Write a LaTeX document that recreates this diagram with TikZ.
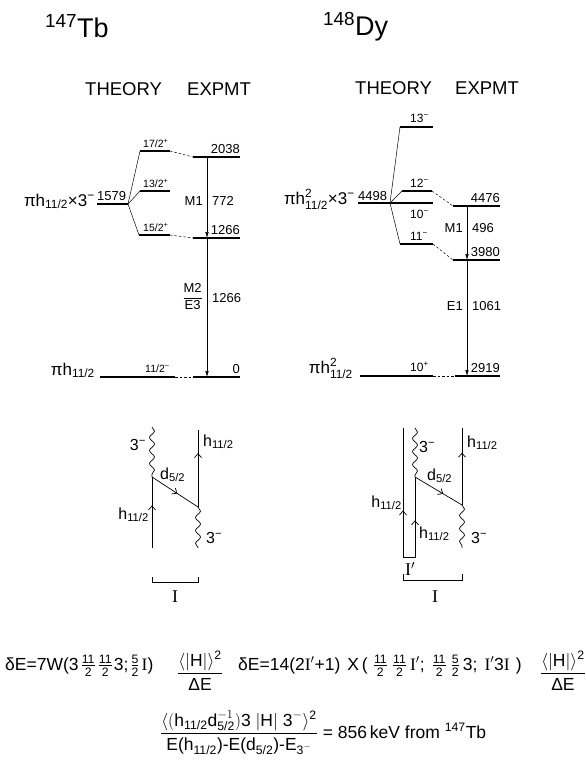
\documentclass[tikz,border=0pt]{standalone}
\usepackage{fix-cm}
\usepackage{amsmath}
\usepackage{fontspec}
\setmainfont{Liberation Sans}
\newfontfamily\romfont{Liberation Serif}
\usepackage{tikz}
\usetikzlibrary{arrows.meta, decorations.pathmorphing, decorations.markings}
\newcommand{\Ir}{{\romfont I}}
\newcommand{\fr}[2]{$\frac{\text{#1}}{\text{#2}}$}
\newcommand{\hel}{h\textsubscript{11/2}}
\tikzset{
	lvl/.style ={line width=1.8pt},
	tie/.style ={line width=0.5pt},
	dtie/.style={line width=0.5pt, dash pattern=on 2.5pt off 2pt},
	gam/.style ={line width=0.5pt, -{Latex[length=6pt,width=3.5pt]}},
	prop/.style={line width=0.7pt, postaction={decorate}, decoration={markings, mark=at position #1 with {\arrow{Straight Barb[length=4pt,width=7pt]}}}},
	prop/.default=0.5,
	wig/.style ={line width=0.7pt, decorate, decoration={snake, amplitude=2.5pt, segment length=13pt}},
	brk/.style ={line width=0.6pt},
}

\begin{document}
\begin{tikzpicture}[x=1pt, y=-1pt, every node/.style={inner sep=0pt},
					nuc/.style ={font=\fontsize{27}{27}\selectfont},
					hdr/.style ={font=\fontsize{18.5}{18.5}\selectfont},
					cfg/.style ={font=\fontsize{17}{17}\selectfont},
					en/.style  ={font=\fontsize{13}{13}\selectfont},
					spin/.style={font=\fontsize{10.5}{10.5}\selectfont},
					jm/.style  ={font=\fontsize{12}{12}\selectfont},
					lbl/.style ={font=\fontsize{16}{16}\selectfont},
					roml/.style={font=\fontsize{18}{18}\selectfont\romfont},
					eqn/.style ={font=\fontsize{17.5}{17.5}\selectfont}]
	\useasboundingbox (0,0) rectangle (586,761);
	% headings
	\node[nuc, anchor=base west] (tb) at (45,37) {\textsuperscript{147}Tb};
	\node[nuc, anchor=base west] (dy) at (323,35) {\textsuperscript{148}Dy};
	\node[hdr, anchor=base west] (thL) at (85,95) {THEORY};
	\node[hdr, anchor=base west] (exL) at (187,95) {EXPMT};
	\node[hdr, anchor=base west] (thR) at (355,94) {THEORY};
	\node[hdr, anchor=base west] (exR) at (455,94) {EXPMT};

	% 147Tb
	\coordinate (r0) at (97,204); \coordinate (b1) at (128,204);
	\coordinate (s17a) at (140,151); \coordinate (s17b) at (170,151);
	\coordinate (s13a) at (140,191); \coordinate (s13b) at (170,191);
	\coordinate (s15a) at (139,235); \coordinate (s15b) at (170,235);
	\coordinate (x2038a) at (193,157); \coordinate (x2038b) at (240,157);
	\coordinate (x1266a) at (193,238); \coordinate (x1266b) at (240,238);
	\coordinate (g0a) at (100,377); \coordinate (g0b) at (175,377);
	\coordinate (x0a) at (193,377); \coordinate (x0b) at (240,377);
	\draw[lvl] (r0) -- (b1); \draw[lvl] (s17a) -- (s17b); \draw[lvl] (s13a) -- (s13b); \draw[lvl] (s15a) -- (s15b);
	\draw[lvl] (x2038a) -- (x2038b); \draw[lvl] (x1266a) -- (x1266b);
	\draw[lvl] (g0a) -- (g0b); \draw[lvl] (x0a) -- (x0b);
	\draw[tie] (b1) -- (s17a); \draw[tie] (b1) -- (s13a); \draw[tie] (b1) -- (s15a);
	\draw[dtie] (s17b) -- (x2038a); \draw[dtie] (s15b) -- (x1266a); \draw[dtie] (g0b) -- (x0a);
	\node[cfg, anchor=base east] (cfgL) at (95,206) {πh\textsubscript{11/2}×3\textsuperscript{−}};
	\node[cfg, anchor=base east] (gsL) at (95,375) {πh\textsubscript{11/2}};
	\node[en, anchor=base west] (e1579) at (97,200) {1579};
	\node[spin, anchor=base west] (j17) at (143,147) {17/2\textsuperscript{+}};
	\node[spin, anchor=base west] (j13) at (143,187) {13/2\textsuperscript{+}};
	\node[spin, anchor=base west] (j15) at (143,231) {15/2\textsuperscript{+}};
	\node[spin, anchor=base west] (j11) at (145,372) {11/2\textsuperscript{−}};
	\node[en, anchor=base east] (e2038) at (240,153) {2038};
	\node[en, anchor=base east] (e1266) at (240,234) {1266};
	\node[en, anchor=base east] (e0) at (240,373) {0};
	\coordinate (gT1) at (207,157); \coordinate (gT2) at (207,238); \coordinate (gT3) at (207,377);
	\draw[gam] (gT1) -- (gT2); \draw[gam] (gT2) -- (gT3);
	\node[en, anchor=base east] (m1L) at (203,205) {M1};
	\node[en, anchor=base west] (k772) at (212,205) {772};
	\node[en, anchor=base east] (m2L) at (203,301) {$\dfrac{\text{M2}}{\text{E3}}$};
	\node[en, anchor=base west] (k1266) at (212,302) {1266};

	% 148Dy
	\coordinate (r1) at (358,203); \coordinate (b2) at (390,203); \coordinate (r2) at (433,203);
	\coordinate (s13m) at (400,127); \coordinate (s13n) at (433,127);
	\coordinate (s12a) at (402,191); \coordinate (s12b) at (432,191);
	\coordinate (s11a) at (400,244); \coordinate (s11b) at (433,244);
	\coordinate (x4476a) at (453,206); \coordinate (x4476b) at (500,206);
	\coordinate (x3980a) at (453,260); \coordinate (x3980b) at (500,260);
	\coordinate (g1a) at (360,376); \coordinate (g1b) at (433,376);
	\coordinate (x2919a) at (455,376); \coordinate (x2919b) at (500,376);
	\draw[lvl] (r1) -- (r2); \draw[lvl] (s13m) -- (s13n); \draw[lvl] (s12a) -- (s12b); \draw[lvl] (s11a) -- (s11b);
	\draw[lvl] (x4476a) -- (x4476b); \draw[lvl] (x3980a) -- (x3980b);
	\draw[lvl] (g1a) -- (g1b); \draw[lvl] (x2919a) -- (x2919b);
	\draw[tie] (b2) -- (s13m); \draw[tie] (b2) -- (s12a); \draw[tie] (b2) -- (s11a);
	\draw[dtie] (s12b) -- (x4476a); \draw[dtie] (s11b) -- (x3980a); \draw[dtie] (g1b) -- (x2919a);
	\node[cfg, anchor=base east] (cfgR) at (355,204) {πh$^{\text{2}}_{\text{11/2}}$×3\textsuperscript{−}};
	\node[cfg, anchor=base east] (gsR) at (353,373) {πh$^{\text{2}}_{\text{11/2}}$};
	\node[en, anchor=base west] (e4498) at (358,200) {4498};
	\node[jm, anchor=base west] (j13m) at (410,122) {13\textsuperscript{−}};
	\node[jm, anchor=base west] (j12m) at (410,187) {12\textsuperscript{−}};
	\node[jm, anchor=base west] (j10m) at (410,218) {10\textsuperscript{−}};
	\node[jm, anchor=base west] (j11m) at (410,240) {11\textsuperscript{−}};
	\node[jm, anchor=base west] (j10p) at (410,371) {10\textsuperscript{+}};
	\node[en, anchor=base east] (e4476) at (500,202) {4476};
	\node[en, anchor=base east] (e3980) at (500,256) {3980};
	\node[en, anchor=base east] (e2919) at (500,372) {2919};
	\coordinate (gD1) at (467,206); \coordinate (gD2) at (467,260); \coordinate (gD3) at (467,376);
	\draw[gam] (gD1) -- (gD2); \draw[gam] (gD2) -- (gD3);
	\node[en, anchor=base east] (m1R) at (463,232) {M1};
	\node[en, anchor=base west] (k496) at (472,232) {496};
	\node[en, anchor=base east] (e1R) at (463,310) {E1};
	\node[en, anchor=base west] (k1061) at (472,310) {1061};

	% graph, 147Tb
	\coordinate (la0) at (152,427); \coordinate (la1) at (152,477); \coordinate (la2) at (152,548);
	\coordinate (lb0) at (198,430); \coordinate (lb1) at (198,507); \coordinate (lb2) at (198,548);
	\draw[wig] (la0) -- (la1); \draw[prop=0.6] (la2) -- (la1);
	\draw[prop=0.55] (la1) -- (lb1);
	\draw[prop=0.7] (lb1) -- (lb0); \draw[wig] (lb1) -- (lb2);
	\node[lbl, anchor=base east] (q1) at (146,450) {3\textsuperscript{−}};
	\node[lbl, anchor=base east] (q2) at (149,519) {\hel};
	\node[lbl, anchor=base west] (q3) at (160,479) {d\textsubscript{5/2}};
	\node[lbl, anchor=base west] (q4) at (203,446) {\hel};
	\node[lbl, anchor=base west] (q5) at (206,543) {3\textsuperscript{−}};
	\draw[brk] (152,577) |- (198,582) -- (198,577);
	\node[roml] (iL) at (175,597) {I};

	% graph, 148Dy
	\coordinate (ra0) at (403,428); \coordinate (ra2) at (403,553);
	\coordinate (rc0) at (415,428); \coordinate (rc1) at (415,477); \coordinate (rc2) at (415,553);
	\coordinate (rb0) at (462,428); \coordinate (rb1) at (462,505); \coordinate (rb2) at (462,548);
	\draw[prop=0.34] (ra2) -- (ra0);
	\draw[wig] (rc0) -- (rc1); \draw[prop=0.43] (rc2) -- (rc1);
	\draw[prop=0.6] (rc1) -- (rb1);
	\draw[prop=0.68] (rb1) -- (rb0); \draw[wig] (rb1) -- (rb2);
	\node[lbl, anchor=base east] (p1) at (402,507) {\hel};
	\node[lbl, anchor=base west] (p2) at (419,538) {\hel};
	\node[lbl, anchor=base west] (p3) at (419,452) {3\textsuperscript{−}};
	\node[lbl, anchor=base west] (p4) at (427,480) {d\textsubscript{5/2}};
	\node[lbl, anchor=base west] (p5) at (467,447) {\hel};
	\node[lbl, anchor=base west] (p6) at (471,543) {3\textsuperscript{−}};
	\draw[brk] (403,551) |- (415,557) -- (415,551);
	\node[roml] (iR1) at (410,569) {I$'$};
	\draw[brk] (403,574) |- (462,580) -- (462,574);
	\node[roml] (iR) at (435,597) {I};

	% formulas
	\node[eqn, anchor=base west] (eqA) at (5,670) {δE=7W(3\hspace{2pt}\fr{11}{2}\hspace{2pt}\fr{11}{2}\hspace{1pt}3;\hspace{2pt}\fr{5}{2}\hspace{2pt}\Ir)};
	\node[eqn, anchor=base] (eqAf) at (200,678) {$\dfrac{\langle|\text{H}|\rangle^{\text{2}}}{\text{ΔE}}$};
	\node[eqn, anchor=base west] (eqB) at (238,670) {δE=14(2\Ir$'$+1)\hspace{7pt}X\hspace{3pt}(\hspace{5pt}\fr{11}{2}\hspace{4pt}\fr{11}{2}\hspace{3pt}\Ir$'$;\hspace{7pt}\fr{11}{2}\hspace{4pt}\fr{5}{2}\hspace{3pt}3;\hspace{7pt}\Ir$'$3\Ir\hspace{6pt})};
	\node[eqn, anchor=base east] (eqBf) at (586,678) {$\dfrac{\langle|\text{H}|\rangle^{\text{2}}}{\text{ΔE}}$};
	\node[eqn, anchor=base west] (eqC) at (160,738) {$\dfrac{\langle(\text{h}_{\text{11/2}}\text{d}^{-1}_{\text{5/2}})\text{3}\;|\text{H}|\;\text{3}^{-}\rangle^{\text{2}}}{\text{E(h}_{\text{11/2}}\text{)-E(d}_{\text{5/2}}\text{)-E}_{\text{3}^{-}}}$ = 856\,keV from \textsuperscript{147}Tb};
\end{tikzpicture}
\end{document}
